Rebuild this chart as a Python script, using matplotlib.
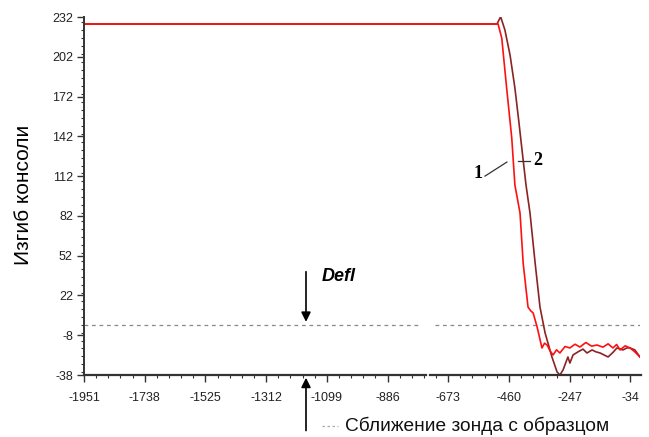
import matplotlib
matplotlib.use("Agg")
import matplotlib.pyplot as plt
from matplotlib.lines import Line2D
from matplotlib.ticker import MultipleLocator, FixedLocator

plt.rcParams["axes.unicode_minus"] = False

# кривая 1 (подвод) - красная
red_x = [-1951, -498, -485, -468, -450, -439, -421, -410, -393, -384, -375, -361,
         -344, -335, -326, -315, -305, -293, -281, -263, -246, -228, -211, -190,
         -170, -151, -130, -112, -95, -82, -70, -52, -35, -18, 0]
red_y = [226.7, 226.7, 216, 178.5, 140.7, 105.3, 84.2, 46.5, 13.3, 10.5, 8.8, -1.8,
         -17.6, -14, -15.4, -20, -22.9, -19, -21.4, -16.5, -17.6, -14.8, -16.9, -13.5,
         -16.2, -15.4, -17, -14.5, -17.6, -15, -19.1, -16, -17.6, -20.6, -24.4]

# кривая 2 - тёмно-красная
brown_x = [-1951, -502, -489, -474, -456, -439, -425, -412, -400, -386, -368, -351,
           -333, -326, -309, -291, -281, -270, -253, -246, -235, -218, -200, -186,
           -168, -155, -140, -112, -95, -81, -60, -45, -35, -18, 0]
brown_y = [226.7, 226.7, 232.2, 222.2, 203.3, 178.5, 152.8, 127.9, 105.3, 84.2, 46.5, 13.3,
           -6.3, -11.6, -24.4, -35.7, -38, -34.2, -24.4, -29, -22.9, -20.6, -18.5, -21.4,
           -19.1, -20.5, -21.4, -24.4, -21, -17.6, -19.1, -17.5, -17.6, -19.1, -24.4]

x_ticks = [-1951, -1738, -1525, -1312, -1099, -886, -673, -460, -247, -34]
y_ticks = [232, 202, 172, 142, 112, 82, 52, 22, -8, -38]

fig = plt.figure(figsize=(6.49, 4.37), dpi=100)
ax = fig.add_axes([84 / 649, 1 - 375 / 437, 556 / 649, 358 / 437])

# нулевой уровень (пунктир) с разрывом
ax.plot([-1951, -770], [0, 0], ls=(0, (3, 3)), color="#888888", lw=0.9)
ax.plot([-720, 0], [0, 0], ls=(0, (3, 3)), color="#888888", lw=0.9)

ax.plot(brown_x, brown_y, color="#8b2323", lw=1.2)
ax.plot(red_x, red_y, color="#ff1010", lw=1.2)

ax.set_xlim(-1951, 0)
ax.set_ylim(-38, 232)

for s in ["top", "right", "bottom"]:
    ax.spines[s].set_visible(False)
ax.spines["left"].set_color("#333333")
ax.spines["left"].set_linewidth(1.4)

# нижняя ось с разрывом
ax.plot([-1951, -751], [-38, -38], color="#333333", lw=1.6, clip_on=False)
ax.plot([-737, 5], [-38, -38], color="#333333", lw=1.6, clip_on=False)

ax.xaxis.set_major_locator(FixedLocator(x_ticks))
ax.yaxis.set_major_locator(FixedLocator(y_ticks))
ax.xaxis.set_minor_locator(FixedLocator([-1951 + 213 / 5 * i for i in range(46)]))
ax.yaxis.set_minor_locator(MultipleLocator(6))
ax.tick_params(axis="both", which="major", direction="out", length=5, width=1,
               color="#333333", labelsize=9, labelcolor="#222222")
ax.tick_params(axis="both", which="minor", direction="out", length=2.5, width=0.8,
               color="#333333")
ax.tick_params(axis="x", pad=7)
ax.tick_params(axis="y", pad=3)
for lab in ax.get_xticklabels() + ax.get_yticklabels():
    lab.set_family("Liberation Sans")

fig.text(0.036, 0.555, "Изгиб консоли", rotation=90, ha="center", va="center",
         fontsize=15, family="Liberation Sans")
fig.text(345 / 649, 1 - 426 / 437, "Сближение зонда с образцом", ha="left",
         va="center", fontsize=13.8, family="Liberation Sans", color="#111111")
fig.add_artist(Line2D([322 / 649, 338 / 649], [1 - 426 / 437, 1 - 426 / 437],
                      ls=(0, (2, 2)), color="#aaaaaa", lw=0.9))

# подписи кривых
ax.text(-568, 114, "1", fontsize=13, fontweight="bold", family="Liberation Serif",
        ha="center", va="center")
ax.plot([-544, -467], [112, 122.6], color="#333333", lw=0.9)
ax.plot([-428, -386], [123.4, 123.4], color="#333333", lw=0.9)
ax.text(-376, 124, "2", fontsize=13, fontweight="bold", family="Liberation Serif",
        ha="left", va="center")

# стрелки Defl
ax.annotate("", xy=(-1172, 0), xytext=(-1172, 42),
            arrowprops=dict(arrowstyle="-|>", color="black", lw=1.2,
                            mutation_scale=14))
ax.annotate("", xy=(-1172, -38), xytext=(-1172, -82), annotation_clip=False,
            arrowprops=dict(arrowstyle="-|>", color="black", lw=1.2,
                            mutation_scale=14))
ax.text(-1117, 36, "Defl", fontsize=13, fontweight="bold", fontstyle="italic",
        family="Liberation Sans", ha="left", va="center")

fig.savefig("out.png", dpi=100)
